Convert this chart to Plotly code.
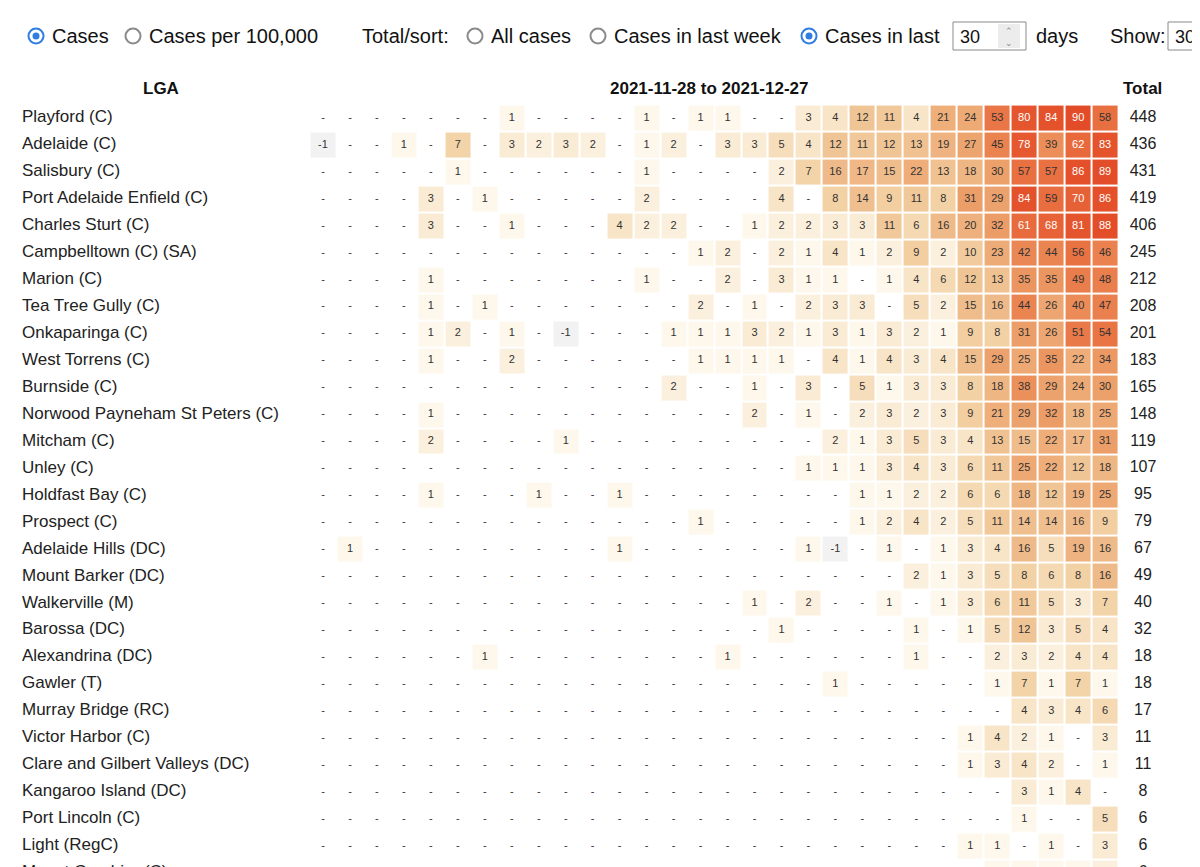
import numpy as np
import plotly.graph_objects as go

# ---- data -----------------------------------------------------------------
date_range = "2021-11-28 to 2021-12-27"
n_days = 30

lgas = [
    "Playford (C)", "Adelaide (C)", "Salisbury (C)", "Port Adelaide Enfield (C)",
    "Charles Sturt (C)", "Campbelltown (C) (SA)", "Marion (C)", "Tea Tree Gully (C)",
    "Onkaparinga (C)", "West Torrens (C)", "Burnside (C)",
    "Norwood Payneham St Peters (C)", "Mitcham (C)", "Unley (C)", "Holdfast Bay (C)",
    "Prospect (C)", "Adelaide Hills (DC)", "Mount Barker (DC)", "Walkerville (M)",
    "Barossa (DC)", "Alexandrina (DC)", "Gawler (T)", "Murray Bridge (RC)",
    "Victor Harbor (C)", "Clare and Gilbert Valleys (DC)", "Kangaroo Island (DC)",
    "Port Lincoln (C)", "Light (RegC)", "Mount Gambier (C)",
]

playford = [0,0,0,0,0,0,0,1,0,0,0,0,1,0,1, 1,0,0,3,4,12,11,4,21,24,53,80,84,90,58]
adelaide = [-1,0,0,1,0,7,0,3,2,3,2,0,1,2,0, 3,3,5,4,12,11,12,13,19,27,45,78,39,62,83]
salisbury = [0,0,0,0,0,1,0,0,0,0,0,0,1,0,0, 0,0,2,7,16,17,15,22,13,18,30,57,57,86,89]
port_adelaide = [0,0,0,0,3,0,1,0,0,0,0,0,2,0,0, 0,0,4,0,8,14,9,11,8,31,29,84,59,70,86]
charles_sturt = [0,0,0,0,3,0,0,1,0,0,0,4,2,2,0, 0,1,2,2,3,3,11,6,16,20,32,61,68,81,88]
campbelltown = [0,0,0,0,0,0,0,0,0,0,0,0,0,0,1, 2,0,2,1,4,1,2,9,2,10,23,42,44,56,46]
marion = [0,0,0,0,1,0,0,0,0,0,0,0,1,0,0, 2,0,3,1,1,0,1,4,6,12,13,35,35,49,48]
tea_tree_gully = [0,0,0,0,1,0,1,0,0,0,0,0,0,0,2, 0,1,0,2,3,3,0,5,2,15,16,44,26,40,47]
onkaparinga = [0,0,0,0,1,2,0,1,0,-1,0,0,0,1,1, 1,3,2,1,3,1,3,2,1,9,8,31,26,51,54]
west_torrens = [0,0,0,0,1,0,0,2,0,0,0,0,0,0,1, 1,1,1,0,4,1,4,3,4,15,29,25,35,22,34]
burnside = [0,0,0,0,0,0,0,0,0,0,0,0,0,2,0, 0,1,0,3,0,5,1,3,3,8,18,38,29,24,30]
norwood = [0,0,0,0,1,0,0,0,0,0,0,0,0,0,0, 0,2,0,1,0,2,3,2,3,9,21,29,32,18,25]
mitcham = [0,0,0,0,2,0,0,0,0,1,0,0,0,0,0, 0,0,0,0,2,1,3,5,3,4,13,15,22,17,31]
unley = [0,0,0,0,0,0,0,0,0,0,0,0,0,0,0, 0,0,0,1,1,1,3,4,3,6,11,25,22,12,18]
holdfast_bay = [0,0,0,0,1,0,0,0,1,0,0,1,0,0,0, 0,0,0,0,0,1,1,2,2,6,6,18,12,19,25]
prospect = [0,0,0,0,0,0,0,0,0,0,0,0,0,0,1, 0,0,0,0,0,1,2,4,2,5,11,14,14,16,9]
adelaide_hills = [0,1,0,0,0,0,0,0,0,0,0,1,0,0,0, 0,0,0,1,-1,0,1,0,1,3,4,16,5,19,16]
mount_barker = [0,0,0,0,0,0,0,0,0,0,0,0,0,0,0, 0,0,0,0,0,0,0,2,1,3,5,8,6,8,16]
walkerville = [0,0,0,0,0,0,0,0,0,0,0,0,0,0,0, 0,1,0,2,0,0,1,0,1,3,6,11,5,3,7]
barossa = [0,0,0,0,0,0,0,0,0,0,0,0,0,0,0, 0,0,1,0,0,0,0,1,0,1,5,12,3,5,4]
alexandrina = [0,0,0,0,0,0,1,0,0,0,0,0,0,0,0, 1,0,0,0,0,0,0,1,0,0,2,3,2,4,4]
gawler = [0,0,0,0,0,0,0,0,0,0,0,0,0,0,0, 0,0,0,0,1,0,0,0,0,0,1,7,1,7,1]
murray_bridge = [0,0,0,0,0,0,0,0,0,0,0,0,0,0,0, 0,0,0,0,0,0,0,0,0,0,0,4,3,4,6]
victor_harbor = [0,0,0,0,0,0,0,0,0,0,0,0,0,0,0, 0,0,0,0,0,0,0,0,0,1,4,2,1,0,3]
clare_gilbert = [0,0,0,0,0,0,0,0,0,0,0,0,0,0,0, 0,0,0,0,0,0,0,0,0,1,3,4,2,0,1]
kangaroo_island = [0,0,0,0,0,0,0,0,0,0,0,0,0,0,0, 0,0,0,0,0,0,0,0,0,0,0,3,1,4,0]
port_lincoln = [0,0,0,0,0,0,0,0,0,0,0,0,0,0,0, 0,0,0,0,0,0,0,0,0,0,0,1,0,0,5]
light = [0,0,0,0,0,0,0,0,0,0,0,0,0,0,0, 0,0,0,0,0,0,0,0,0,1,1,0,1,0,3]
mount_gambier = [0,0,0,0,0,0,0,0,0,0,0,0,0,0,0, 0,0,0,0,0,0,0,0,0,0,1,1,1,1,2]

cases = np.array([
    playford, adelaide, salisbury, port_adelaide, charles_sturt, campbelltown,
    marion, tea_tree_gully, onkaparinga, west_torrens, burnside, norwood,
    mitcham, unley, holdfast_bay, prospect, adelaide_hills, mount_barker,
    walkerville, barossa, alexandrina, gawler, murray_bridge, victor_harbor,
    clare_gilbert, kangaroo_island, port_lincoln, light, mount_gambier,
])
totals = cases.sum(axis=1)

# ---- geometry: map page pixels onto data coords --------------------------
W, H = 1200, 867
X0, DX = 315, 26.97   # first cell centre / column pitch (px)
Y0, DY = 110, 26.96   # first row centre / row pitch (px)


def px(x):
    return (x - X0) / DX


def py(y):
    return (y - Y0) / DY


# colour scale on sqrt of value (grey for negatives, white for zero)
stops = [(-1, "#f2f2f2"), (0, "#ffffff"), (1, "#fdf7ec"), (3, "#faebd4"),
         (7, "#f3d4a9"), (12, "#f0c596"), (20, "#eeb17d"), (30, "#eca06a"),
         (45, "#ea8350"), (60, "#e86c3e"), (80, "#e5562e"), (90, "#e34c28")]


def tr(v):
    return np.sign(v) * np.sqrt(abs(v))


zmin, zmax = tr(-1), tr(90)
colorscale = [[(tr(v) - zmin) / (zmax - zmin), c] for v, c in stops]

nrows = len(lgas)
cols = np.arange(n_days)
rows = np.arange(nrows)

fig = go.Figure()
fig.add_trace(go.Heatmap(
    z=tr(cases), x=cols, y=rows, zmin=zmin, zmax=zmax,
    colorscale=colorscale, showscale=False, xgap=2, ygap=2, hoverinfo="skip",
))

# cell labels
cx, cy, ct, cc = [], [], [], []
for r in range(nrows):
    for c in range(n_days):
        v = cases[r, c]
        cx.append(c)
        cy.append(r)
        ct.append("-" if v == 0 else str(v))
        cc.append("white" if v >= 60 else "#333")
fig.add_trace(go.Scatter(
    x=cx, y=cy, text=ct, mode="text",
    textfont=dict(size=11, color=cc, family="Liberation Sans, Arial"),
    hoverinfo="skip", showlegend=False,
))

# LGA names and totals
fig.add_trace(go.Scatter(
    x=[px(14)] * nrows, y=rows, text=lgas, mode="text", textposition="middle right",
    textfont=dict(size=17, color="#222", family="Liberation Sans, Arial"),
    hoverinfo="skip", showlegend=False,
))
fig.add_trace(go.Scatter(
    x=[px(1135)] * nrows, y=rows, text=[str(t) for t in totals], mode="text",
    textfont=dict(size=16, color="#222", family="Liberation Sans, Arial"),
    hoverinfo="skip", showlegend=False,
))

# column headers
hdr = dict(size=17, color="#111", family="Liberation Sans, Arial")
for x, t in [(153, "LGA"), (701, date_range), (1134, "Total")]:
    fig.add_annotation(x=px(x), y=py(80), text=f"<b>{t}</b>", showarrow=False,
                       font=hdr, xanchor="center")

# top controls (radio buttons, inputs)
ctl = dict(size=20, color="#111", family="Liberation Sans, Arial")
radios = [(28, True, "Cases"), (125, False, "Cases per 100,000"),
          (467, False, "All cases"), (590, False, "Cases in last week"),
          (801, True, "Cases in last")]
for x, on, label in radios:
    fig.add_trace(go.Scatter(
        x=[px(x)], y=[py(28)], mode="markers", hoverinfo="skip", showlegend=False,
        marker=dict(size=15, symbol="circle", color="white",
                    line=dict(width=2, color="#2f7de1" if on else "#8a8a8a")),
    ))
    if on:
        fig.add_trace(go.Scatter(
            x=[px(x)], y=[py(28)], mode="markers", hoverinfo="skip", showlegend=False,
            marker=dict(size=7, color="#2f7de1"),
        ))
    fig.add_annotation(x=px(x + 14), y=py(28), text=label, showarrow=False,
                       font=ctl, xanchor="left")
for x, t in [(352, "Total/sort:"), (1026, "days"), (1100, "Show:")]:
    fig.add_annotation(x=px(x), y=py(28), text=t, showarrow=False, font=ctl,
                       xanchor="left")
for x0, x1 in [(945, 1018), (1160, 1215)]:
    fig.add_shape(type="rect", x0=px(x0), x1=px(x1), y0=py(14), y1=py(42),
                  line=dict(color="#8a8a8a", width=1), fillcolor="white")
    fig.add_annotation(x=px(x0 + 5), y=py(29), text="30", showarrow=False,
                       font=dict(size=18, color="#111", family="Liberation Sans, Arial"),
                       xanchor="left")
fig.add_shape(type="rect", x0=px(990), x1=px(1012), y0=py(16), y1=py(40),
              line=dict(width=0), fillcolor="#ececec")
fig.add_annotation(x=px(1001), y=py(28), text="⌃<br>⌄", showarrow=False,
                   font=dict(size=9, color="#888"), xanchor="center")

fig.update_xaxes(range=[px(0), px(W)], visible=False, fixedrange=True)
fig.update_yaxes(range=[py(H), py(0)], visible=False, fixedrange=True)
fig.update_layout(
    width=W, height=H, margin=dict(l=0, r=0, t=0, b=0),
    plot_bgcolor="white", paper_bgcolor="white", showlegend=False,
)

fig.write_html("out.html")
